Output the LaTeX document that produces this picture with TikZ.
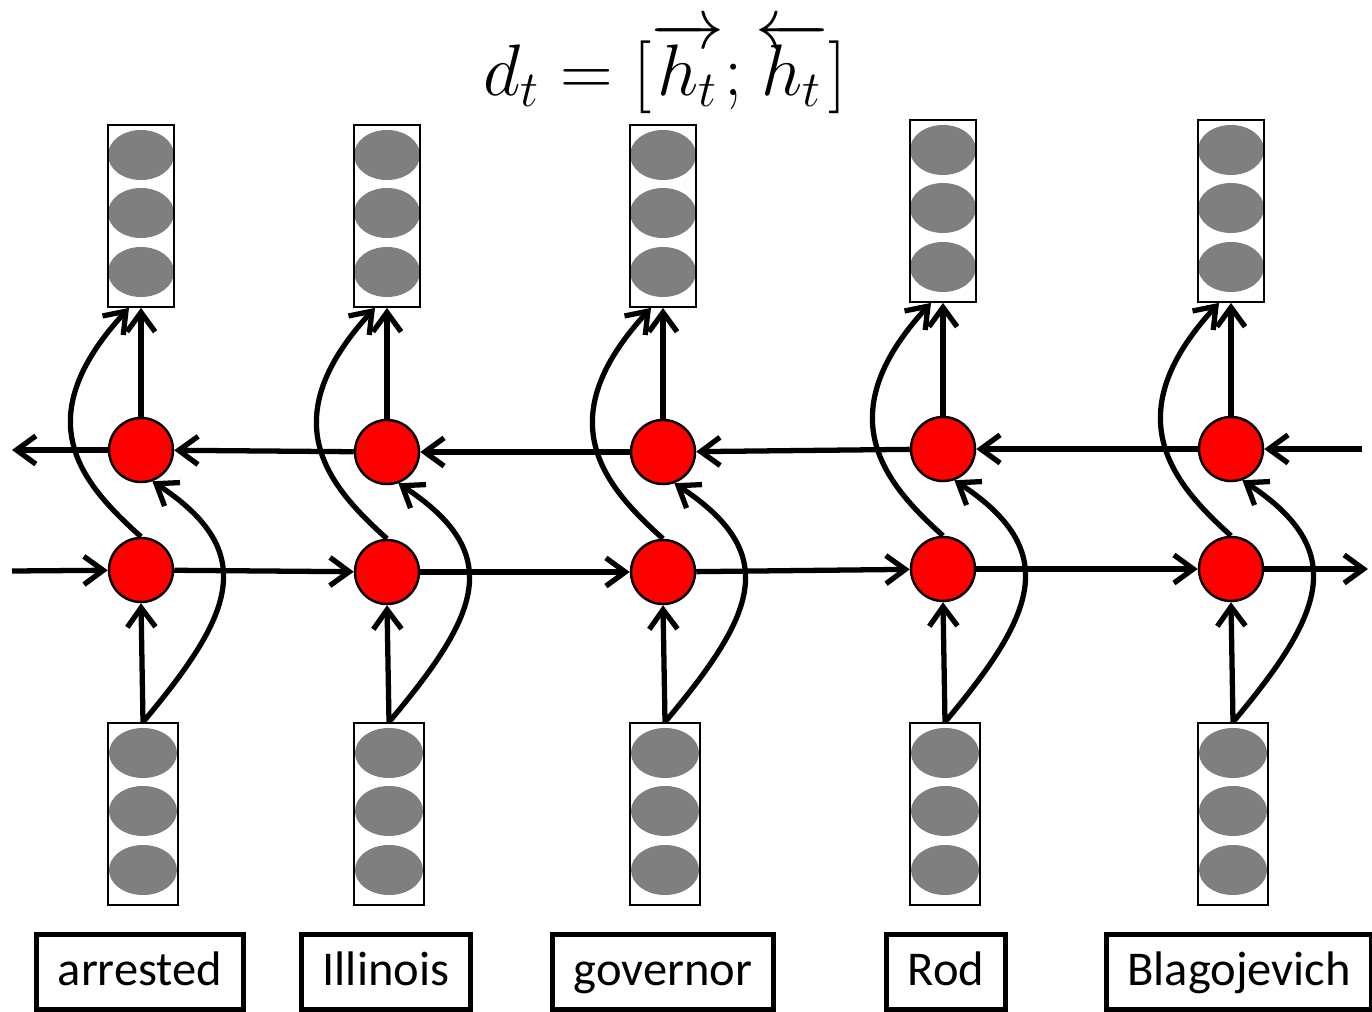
\documentclass[tikz,border=0pt]{standalone}
\usepackage{fontspec}
\setmainfont{Carlito}
\usetikzlibrary{arrows.meta}
\definecolor{cellgray}{HTML}{7F7F7F}
\begin{document}
\begin{tikzpicture}[x=0.01cm,y=-0.01cm,
	vec/.style={draw,line width=0.5pt,minimum width=0.66cm,minimum height=1.82cm,inner sep=0pt},
	unit/.style={circle,draw,fill=red,line width=0.7pt,minimum size=0.64cm,inner sep=0pt},
	word/.style={draw,line width=1.5pt,minimum height=0.75cm,inner xsep=6pt,text height=2.0ex,text depth=0.4ex,font=\fontsize{13.8}{16}\selectfont},
	arr/.style={line width=1.5pt,-{Straight Barb[length=5.5pt,width=8pt]}}]
	\useasboundingbox (0,0) rectangle (1372,1012);
	\node at (665,68) (title) {\fontsize{20}{24}\selectfont $d_t=[\overrightarrow{h_t};\overleftarrow{h_t}]$};
	\foreach \n/\x/\ty/\cy/\wx/\w in {1/141/216/450/140/arrested,2/387/216/452/386/Illinois,3/663/216/452/663/governor,4/943/211/449/946/Rod,5/1231/211/449/1239/Blagojevich}{
		\foreach \e in {-61,-3,56} {
			\fill[cellgray] (\x,{\ty+\e}) ellipse [x radius=0.33cm,y radius=0.25cm];
			\fill[cellgray] ({\x+2},{814+\e}) ellipse [x radius=0.34cm,y radius=0.25cm];
		}
		\node[vec] at (\x,\ty) (out\n) {};
		\node[vec,minimum width=0.70cm] at ({\x+2},814) (in\n) {};
		\node[unit] at (\x,\cy) (b\n) {};
		\node[unit] at (\x,{\cy+120}) (f\n) {};
		\node[word] at (\wx,972) (w\n) {\w};
		\draw[arr] (in\n.north) -- (f\n.south);
		\draw[arr] (b\n.north) -- (out\n.south);
		\draw[arr] (f\n.north) .. controls +(-60,-54) and +(-103,112) .. ([xshift=-0.12cm]out\n.south);
		\draw[arr] (in\n.north) .. controls +(90,-107) and +(108,71) .. (b\n.-70);
	}
	\coordinate (bR) at (1362,449);
	\coordinate (bL) at (12,450);
	\coordinate (fL) at (12,571);
	\coordinate (fR) at (1368,569);
	\draw[arr] (bR) -- (b5);
	\foreach \n/\m in {5/4,4/3,3/2,2/1}
		\draw[arr] (b\n) -- (b\m);
	\draw[arr] (b1) -- (bL);
	\draw[arr] (fL) -- (f1);
	\foreach \n/\m in {1/2,2/3,3/4,4/5}
		\draw[arr] (f\n) -- (f\m);
	\draw[arr] (f5) -- (fR);
\end{tikzpicture}
\end{document}
